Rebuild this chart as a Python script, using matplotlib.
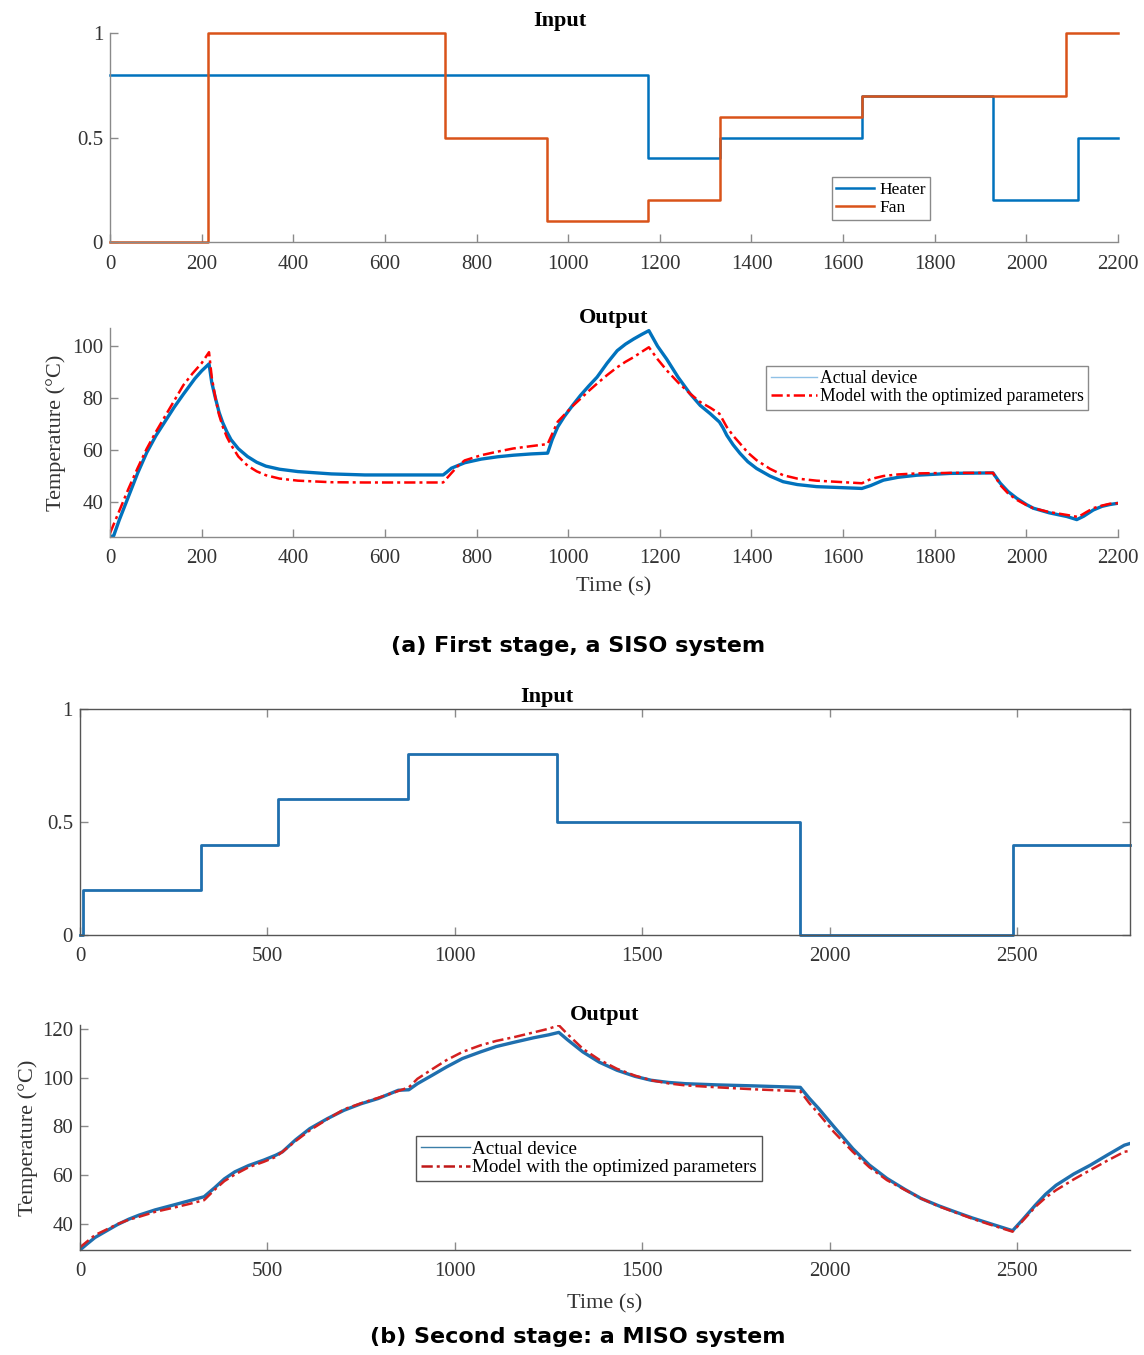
import matplotlib.pyplot as plt
from matplotlib.lines import Line2D

SERIF = 'Liberation Serif'
plt.rcParams['font.family'] = SERIF

# (a) first stage - inputs (step changes)
heater_t = [0, 1175, 1331, 1641, 1927, 2113, 2200]
heater_u = [0.8, 0.4, 0.5, 0.7, 0.2, 0.5, 0.5]
fan_t = [0, 214, 731, 954, 1175, 1331, 1641, 2086, 2200]
fan_u = [0, 1, 0.5, 0.1, 0.2, 0.6, 0.7, 1, 1]

# (a) first stage - output temperature
act1_t = [0, 8, 20, 40, 60, 80, 100, 120, 140, 160, 185, 200, 216,
          222, 230, 238, 246, 255, 264, 280, 300, 320, 340, 370, 410, 483, 556, 727,
          735, 745, 774, 810, 846, 880, 919, 955,
          965, 977, 991, 1010, 1027, 1045, 1063, 1085, 1107, 1125, 1143, 1160, 1176,
          1195, 1215, 1240, 1266, 1288, 1310, 1330, 1338, 1346, 1360, 1375, 1392, 1411,
          1440, 1469, 1500, 1542, 1641,
          1660, 1688, 1720, 1761, 1834, 1927,
          1943, 1960, 1979, 2000, 2015, 2050, 2088, 2110,
          2125, 2146, 2165, 2182, 2200]
act1_y = [26.5, 27, 33, 42, 51, 59, 65.5, 71, 76.5, 81.5, 87.5, 90.5, 93.2,
          86, 80, 74.5, 70.5, 67, 64, 60.5, 57.5, 55.3, 53.8, 52.6, 51.7, 50.8, 50.4, 50.4,
          51.5, 53, 55.1, 56.5, 57.4, 58, 58.5, 58.8,
          64, 68.9, 72.8, 77.3, 81.1, 84.7, 88.1, 93.5, 98.3, 100.8, 102.8, 104.5, 106,
          100, 95, 88, 81.7, 77.2, 74, 70.8, 68.5, 65.7, 62, 58.7, 55.5, 52.9,
          50, 47.8, 46.7, 45.9, 45.2,
          46.3, 48.4, 49.5, 50.3, 51, 51.2,
          47.2, 44, 41.4, 39, 37.6, 35.8, 34.4, 33.2,
          34.5, 36.9, 38.3, 39, 39.5]
mod1_t = [0, 20, 40, 60, 80, 100, 120, 140, 160, 180, 200, 216,
          222, 230, 238, 246, 255, 264, 280, 300, 320, 340, 370, 410, 483, 556, 727,
          745, 760, 774, 810, 846, 880, 919, 955,
          977, 991, 1010, 1027, 1045, 1063, 1085, 1107, 1125, 1143, 1160, 1176,
          1195, 1215, 1240, 1266, 1288, 1310, 1330, 1346, 1360, 1375, 1392, 1411,
          1440, 1469, 1500, 1542, 1641,
          1660, 1688, 1720, 1761, 1834, 1927,
          1943, 1960, 1979, 2000, 2015, 2050, 2088, 2113,
          2130, 2146, 2165, 2182, 2200]
mod1_y = [28, 36.5, 45, 53, 60.5, 67, 73, 79, 85, 89.5, 93.5, 97.7,
          88, 80, 73.5, 69, 65, 62, 57.5, 54, 51.8, 50.3, 49, 48.2, 47.6, 47.5, 47.5,
          51.1, 54, 56, 58, 59.4, 60.6, 61.5, 62.3,
          70.9, 73.5, 77, 79.8, 82.8, 85.6, 88.9, 91.9, 94, 95.8, 97.8, 99.6,
          95, 90.7, 86, 81.7, 78.5, 76.3, 74, 68.9, 65.5, 62.5, 59, 56.1,
          52.8, 50.3, 49, 48.2, 47.2,
          48.8, 50, 50.6, 51, 51.2, 51.2,
          46.5, 43.3, 40.8, 38.8, 37.6, 36.1, 35, 34.2,
          36, 37.6, 38.6, 39.3, 39.5]

# (b) second stage - input
in2_t = [0, 7, 324, 529, 875, 1273, 1921, 2487, 2800]
in2_u = [0, 0.2, 0.4, 0.6, 0.8, 0.5, 0, 0.4, 0.4]

# (b) second stage - output temperature
act2_t = [0, 20, 40, 67, 100, 130, 158, 200, 249, 290, 331, 360, 385, 413, 450, 490, 522, 540,
          575, 613, 660, 704, 750, 795, 849, 877, 900, 940, 977, 1020, 1068, 1110, 1159, 1210,
          1250, 1277, 1300, 1341, 1385, 1432, 1480, 1523, 1570, 1614, 1700, 1796, 1921, 1945,
          1970, 2010, 2061, 2105, 2152, 2200, 2243, 2290, 2334, 2380, 2425, 2487, 2515, 2548,
          2575, 2603, 2650, 2694, 2740, 2785, 2800]
act2_y = [29.4, 32, 34.5, 36.9, 39.8, 42, 43.7, 45.8, 47.8, 49.5, 51.2, 55, 58.5, 61.4, 64,
          66.2, 68.2, 69.6, 74.5, 79.1, 83.2, 86.6, 89.3, 91.4, 94.8, 95, 97.5, 101, 104.3,
          107.8, 110.5, 112.7, 114.5, 116.3, 117.5, 118.5, 115.5, 110.5, 106.3, 103, 100.5,
          98.9, 98, 97.5, 97, 96.6, 96, 91.5, 87.3, 80, 70.9, 64.2, 58.7, 54.2, 50.5, 47.5,
          45, 42.5, 40.3, 37.3, 42, 47.8, 52.2, 55.9, 60.5, 64.1, 68.3, 72.3, 73]
mod2_t = [0, 20, 40, 67, 100, 130, 158, 200, 249, 290, 331, 360, 385, 413, 450, 490, 522, 540,
          575, 613, 660, 704, 750, 795, 849, 877, 900, 940, 977, 1020, 1068, 1110, 1159, 1210,
          1250, 1277, 1300, 1341, 1385, 1432, 1480, 1523, 1570, 1614, 1700, 1796, 1921, 1945,
          1970, 2010, 2061, 2105, 2152, 2200, 2243, 2290, 2334, 2380, 2425, 2487, 2515, 2548,
          2575, 2603, 2650, 2694, 2740, 2785, 2800]
mod2_y = [30.5, 33, 35.5, 37.5, 40, 41.8, 43, 45, 46.7, 48.2, 49.8, 54.2, 57.6, 60.3, 63.3,
          65.5, 67.5, 69.6, 74, 78.4, 83, 87, 89.5, 91.7, 94.5, 96, 99.5, 103.5, 107.1, 110.5,
          113.2, 115, 116.6, 118.5, 120, 121.4, 117.8, 111.8, 107.3, 103.6, 100.8, 98.9, 97.6,
          96.8, 96, 95.2, 94.4, 89.5, 85.2, 77.8, 69.6, 63.3, 58, 54, 50.5, 47.3, 44.8, 42.2,
          39.9, 36.9, 41.5, 47.1, 50.8, 53.9, 58.3, 62.1, 66, 69.6, 70]

BLUE = '#0072BD'
ORANGE = '#D95319'
DASHDOT = (0, (4.5, 1.6, 1.2, 1.6))
TICK_SIZE = 15
LABEL_SIZE = 16
TITLE_SIZE = 16


def style_axes(ax, box=False, spine_color='#8a8a8a'):
    for side in ['top', 'right']:
        ax.spines[side].set_visible(box)
    for sp in ax.spines.values():
        sp.set_color(spine_color)
        sp.set_linewidth(1.0)
    ax.tick_params(direction='in', length=6, width=1, colors='#8a8a8a',
                   labelcolor='#333333', labelsize=TICK_SIZE, top=box, right=box)
    ax.tick_params(axis='x', pad=9)
    ax.tick_params(axis='y', pad=5)


fig = plt.figure(figsize=(11.44, 13.55), dpi=100)

# ---- (a) input
ax1 = fig.add_axes([0.0962, 0.8214, 0.8811, 0.1542])
ax1.step(heater_t, heater_u, where='post', color=BLUE, lw=1.8, label='Heater', clip_on=False)
ax1.step(fan_t, fan_u, where='post', color=ORANGE, lw=1.8, label='Fan', clip_on=False)
ax1.set_xlim(0, 2200)
ax1.set_ylim(0, 1)
ax1.set_xticks(range(0, 2201, 200))
ax1.set_yticks([0, 0.5, 1])
ax1.set_yticklabels(['0', '0.5', '1'])
style_axes(ax1)
ax1.set_title('Input', fontsize=TITLE_SIZE, fontweight='bold', x=0.446, pad=5)
ax1.legend(loc='upper left', bbox_to_anchor=(0.716, 0.31), fontsize=12.5, frameon=True,
           fancybox=False, edgecolor='#8a8a8a', framealpha=1, handlelength=2.2,
           handletextpad=0.3, borderpad=0.25, labelspacing=0.12, borderaxespad=0)

# ---- (a) output
ax2 = fig.add_axes([0.0962, 0.6037, 0.8811, 0.1542])
ax2.plot(act1_t, act1_y, color=BLUE, lw=2.4)
ax2.plot(mod1_t, mod1_y, color='red', lw=1.8, ls=DASHDOT)
ax2.set_xlim(0, 2200)
ax2.set_ylim(26.5, 107)
ax2.set_xticks(range(0, 2201, 200))
ax2.set_yticks([40, 60, 80, 100])
style_axes(ax2)
ax2.set_title('Output', fontsize=TITLE_SIZE, fontweight='bold', pad=3)
ax2.set_xlabel('Time (s)', fontsize=LABEL_SIZE, color='#333333', labelpad=6)
ax2.set_ylabel('Temperature (°C)', fontsize=LABEL_SIZE, color='#333333', labelpad=4)
h2 = [Line2D([], [], color='#8fc1e6', lw=1.0),
      Line2D([], [], color='red', lw=1.8, ls=DASHDOT)]
ax2.legend(h2, ['Actual device', 'Model with the optimized parameters'], loc='upper left',
           bbox_to_anchor=(0.651, 0.818), fontsize=12.7, frameon=True, fancybox=False,
           edgecolor='#8a8a8a', framealpha=1, handlelength=2.6, handletextpad=0.2,
           borderpad=0.25, labelspacing=0.05, borderaxespad=0)

fig.text(0.505, 1 - 646 / 1355, '(a) First stage, a SISO system', family='DejaVu Sans',
         fontweight='bold', fontsize=16, ha='center', va='center')

# ---- (b) input
ax3 = fig.add_axes([0.0699, 0.3100, 0.9178, 0.1668])
ax3.step(in2_t, in2_u, where='post', color='#1f6fae', lw=2.0, clip_on=False)
ax3.set_xlim(0, 2800)
ax3.set_ylim(0, 1)
ax3.set_xticks(range(0, 2501, 500))
ax3.set_yticks([0, 0.5, 1])
ax3.set_yticklabels(['0', '0.5', '1'])
style_axes(ax3, box=True, spine_color='#555555')
ax3.set_title('Input', fontsize=TITLE_SIZE, fontweight='bold', x=0.445, pad=5)

# ---- (b) output
ax4 = fig.add_axes([0.0699, 0.0775, 0.9178, 0.1660])
ax4.plot(act2_t, act2_y, color='#1f6fae', lw=2.4)
ax4.plot(mod2_t, mod2_y, color='#d42020', lw=1.8, ls=DASHDOT)
ax4.set_xlim(0, 2800)
ax4.set_ylim(29.4, 121.5)
ax4.set_xticks(range(0, 2501, 500))
ax4.set_yticks([40, 60, 80, 100, 120])
style_axes(ax4, spine_color='#555555')
ax4.set_title('Output', fontsize=TITLE_SIZE, fontweight='bold', pad=3)
ax4.set_xlabel('Time (s)', fontsize=LABEL_SIZE, color='#333333', labelpad=9)
ax4.set_ylabel('Temperature (°C)', fontsize=LABEL_SIZE, color='#333333', labelpad=3)
h4 = [Line2D([], [], color='#3b7ea8', lw=1.0),
      Line2D([], [], color='#c01818', lw=1.8, ls=DASHDOT)]
ax4.legend(h4, ['Actual device', 'Model with the optimized parameters'], loc='upper left',
           bbox_to_anchor=(0.32, 0.507), fontsize=13.7, frameon=True, fancybox=False,
           edgecolor='#555555', framealpha=1, handlelength=2.6, handletextpad=0.1,
           borderpad=0.25, labelspacing=0.05, borderaxespad=0)

fig.text(0.505, 1 - 1337 / 1355, '(b) Second stage: a MISO system', family='DejaVu Sans',
         fontweight='bold', fontsize=16, ha='center', va='center')

fig.savefig('out.png', dpi=100)
